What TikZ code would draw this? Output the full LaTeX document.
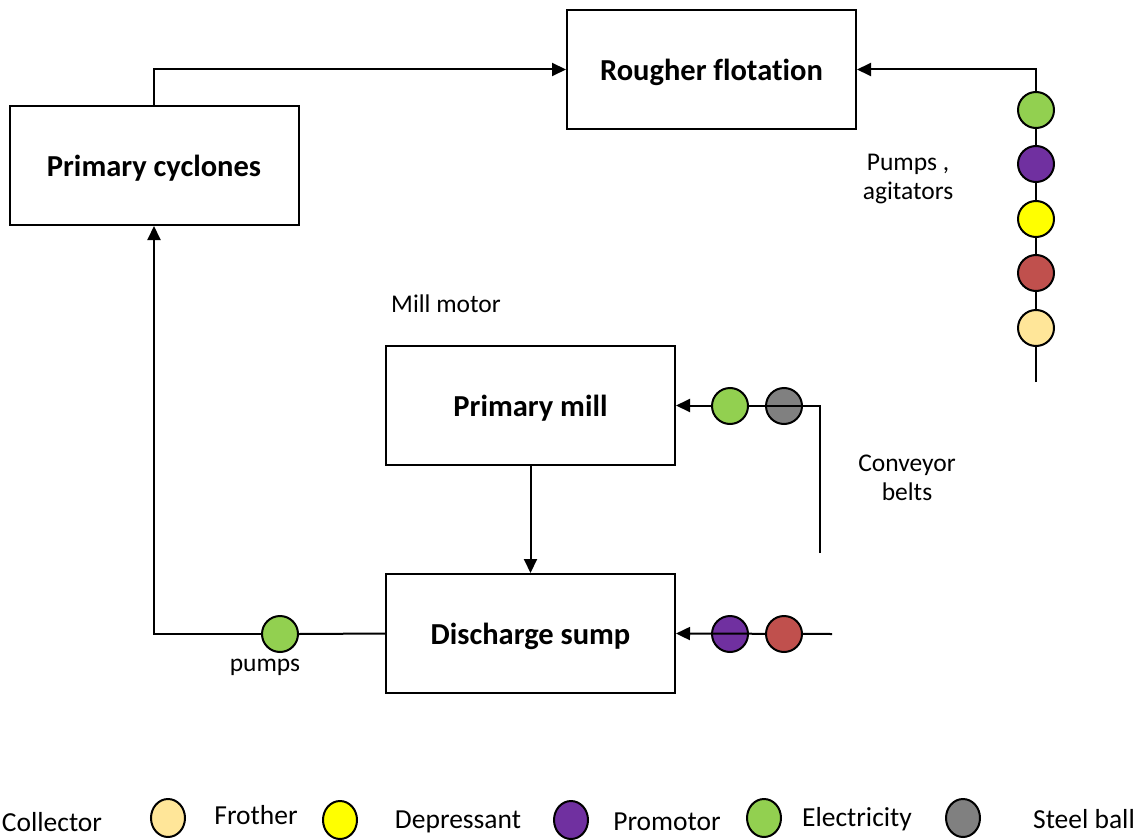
\documentclass[tikz,border=0pt]{standalone}
\usepackage{fontspec}
\setmainfont{Carlito}[Ligatures={NoCommon}]
\usetikzlibrary{arrows.meta,shapes.geometric}
\definecolor{cgreen}{HTML}{92D050}
\definecolor{cpurple}{HTML}{7030A0}
\definecolor{cyellow}{HTML}{FFFF00}
\definecolor{cred}{HTML}{C0504D}
\definecolor{corange}{HTML}{FFE699}
\definecolor{cgray}{HTML}{808080}
\tikzset{
  unitbox/.style={draw, line width=2pt, minimum width=289pt, minimum height=119pt,
    font=\fontsize{30.5}{36}\selectfont\bfseries, inner sep=0pt, text depth=0pt},
  flow/.style={line width=2pt, -{Triangle[length=14pt,width=13pt]}},
  pipe/.style={line width=2pt},
  dot/.style={circle, draw, line width=2pt, minimum size=36pt, inner sep=0pt, fill=#1},
  keydot/.style={ellipse, draw, line width=2pt, minimum width=34pt, minimum height=38pt, inner sep=0pt, fill=#1},
  lbl/.style={font=\fontsize{25.5}{29}\selectfont, align=center, inner sep=0pt},
  keylbl/.style={font=\fontsize{27.5}{32}\selectfont, inner sep=0pt},
}
\begin{document}
\begin{tikzpicture}[x=1pt, y=-1pt]
\useasboundingbox (0,0) rectangle (1140,840);

% process units
\node[unitbox] (rough) at (711.5,69.5) {Rougher flotation};
\node[unitbox] (cyc) at (154,165.5) {Primary cyclones};
\node[unitbox] (mill) at (530.5,405.5) {Primary mill};
\node[unitbox] (sump) at (530.5,633.5) {Discharge sump};

% cyclone overflow to rougher
\draw[flow] (cyc.north) |- (rough.west);

% reagent line into rougher
\coordinate (rbot) at (1036,382);
\draw[flow] (rbot) |- (rough.east);
\node[dot=cgreen]  (r1) at (1036,110) {};
\node[dot=cpurple] (r2) at (1036,164) {};
\node[dot=cyellow] (r3) at (1036,219) {};
\node[dot=cred]    (r4) at (1036,273) {};
\node[dot=corange] (r5) at (1036,328) {};
\node[lbl] (pumps1) at (908,179) {Pumps ,\\agitators};

% feed line into mill (steel ball dot sits under the line)
\coordinate (mbot) at (820,553);
\node[dot=cgray]  (m2) at (784,406) {};
\draw[flow] (mbot) |- (mill.east);
\node[dot=cgreen] (m1) at (730,406) {};
\node[lbl] (conv) at (907,478) {Conveyor\\belts};
\node[lbl, anchor=west] (motor) at (391,304) {Mill motor};

% mill discharge to sump
\draw[flow] (mill.south) -- (sump.north);

% reagent line into sump (promotor dot sits under the line)
\coordinate (send) at (832,634);
\node[dot=cpurple] (s1) at (730,634) {};
\draw[flow] (send) -- (sump.east);
\node[dot=cred]    (s2) at (784,634) {};

% sump to cyclones
\coordinate (corner) at (154,634);
\node[dot=cgreen] (p1) at (280,634) {};
\draw[pipe] (sump.west) -- (p1.east);
\draw[flow] (p1.west) -- (corner) -- (cyc.south);
\node[lbl] (pumps2) at (265,667) {pumps};

% legend
\node[keylbl] (k1) at (52,822) {Collector};
\node[keydot=corange] (d1) at (168,818) {};
\node[keylbl] (k2) at (256,815) {Frother};
\node[keydot=cyellow] (d2) at (340,820) {};
\node[keylbl] (k3) at (458,822) {Depressant};
\node[keydot=cpurple] (d3) at (571,820) {};
\node[keylbl] (k4) at (667,822) {Promotor};
\node[keydot=cgreen] (d4) at (764,818) {};
\node[keylbl] (k5) at (857,819) {Electricity};
\node[keydot=cgray] (d5) at (963,818) {};
\node[keylbl] (k6) at (1084,819) {Steel ball};
\end{tikzpicture}
\end{document}
